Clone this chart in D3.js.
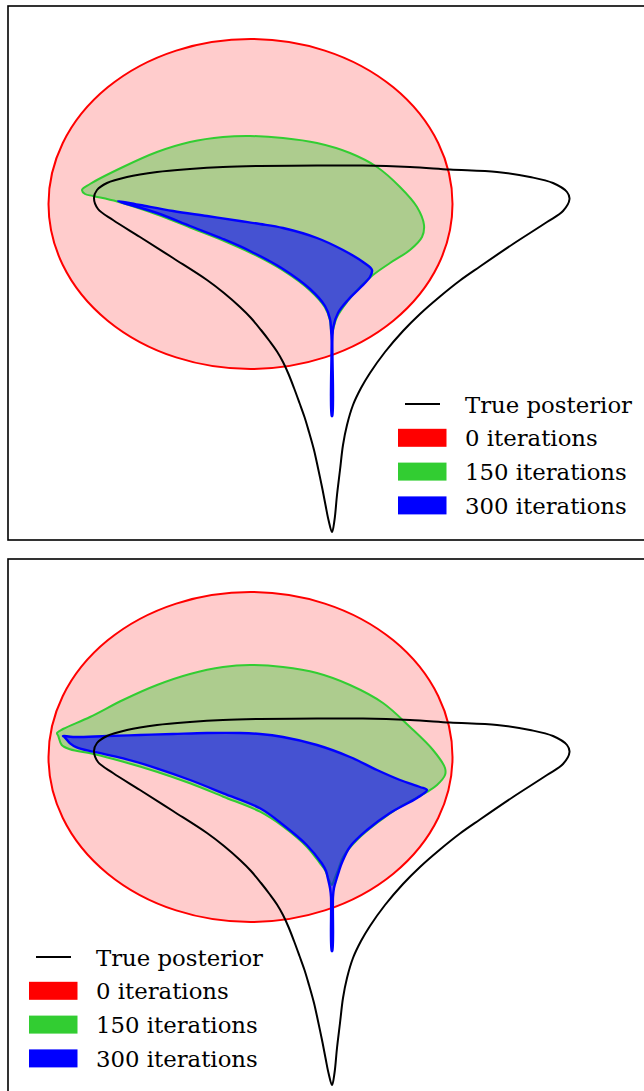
<!DOCTYPE html>
<html>
<head>
<meta charset="utf-8">
<script src="https://cdn.jsdelivr.net/npm/d3@7"></script>
<style>
  html, body { margin: 0; padding: 0; background: #fff; }
  svg { display: block; }
</style>
</head>
<body>
<svg id="chart" width="644" height="1091"></svg>
<script>
// Contour of the true posterior (same in both panels), as [x, y] points.
const truePosterior = [
  [0, -3.28], [-0.035, -3.16], [-0.065, -3.01], [-0.10, -2.83], [-0.14, -2.64],
  [-0.18, -2.46], [-0.23, -2.28], [-0.275, -2.13], [-0.325, -1.99], [-0.38, -1.84],
  [-0.435, -1.70], [-0.49, -1.58], [-0.55, -1.475], [-0.625, -1.37], [-0.71, -1.26],
  [-0.81, -1.14], [-0.92, -1.03], [-1.08, -0.89], [-1.25, -0.76], [-1.59, -0.54],
  [-1.92, -0.33], [-2.19, -0.16], [-2.34, -0.05], [-2.38, 0.06], [-2.35, 0.14],
  [-2.25, 0.21], [-2.05, 0.27], [-1.75, 0.32], [-1.42, 0.35], [-1.09, 0.37],
  [-0.72, 0.38], [-0.15, 0.385], [0.31, 0.385], [0.78, 0.37], [1.18, 0.345],
  [1.65, 0.32], [1.98, 0.27], [2.21, 0.21], [2.35, 0.12], [2.375, 0.05],
  [2.31, -0.07], [2.15, -0.18], [1.81, -0.40], [1.48, -0.625], [1.28, -0.765],
  [1.08, -0.925], [0.88, -1.10], [0.71, -1.27], [0.53, -1.48], [0.38, -1.69],
  [0.29, -1.84], [0.21, -2.01], [0.15, -2.21], [0.11, -2.41], [0.08, -2.66],
  [0.05, -2.91], [0.025, -3.16]
];

// Initial Gaussian approximation (0 iterations): centre and radii.
const initCenter = [-0.815, 0];
const initRadii = [2.02, 1.65];

// Approximation after 150 iterations, one contour per panel.
const green150Top = [
  [-2.50, 0.14], [-2.42, 0.20], [-2.09, 0.37], [-1.75, 0.52], [-1.42, 0.62],
  [-1.09, 0.67], [-0.82, 0.68], [-0.49, 0.66], [-0.15, 0.61], [0.18, 0.51],
  [0.45, 0.37], [0.68, 0.17], [0.85, -0.03], [0.92, -0.21], [0.90, -0.33],
  [0.78, -0.46], [0.58, -0.59], [0.41, -0.71], [0.28, -0.83], [0.15, -0.98],
  [0.05, -1.13], [0.01, -1.26], [0, -1.31], [-0.01, -1.26], [-0.02, -1.165],
  [-0.07, -1.035], [-0.22, -0.865], [-0.49, -0.665], [-0.82, -0.485],
  [-1.09, -0.365], [-1.42, -0.235], [-1.75, -0.105], [-2.15, 0.025],
  [-2.39, 0.08], [-2.47, 0.10]
];
const green150Bottom = [
  [-2.75, 0.24], [-2.69, 0.28], [-2.42, 0.40], [-2.09, 0.57], [-1.75, 0.72],
  [-1.42, 0.83], [-1.09, 0.90], [-0.82, 0.92], [-0.49, 0.90], [-0.15, 0.84],
  [0.18, 0.72], [0.51, 0.54], [0.78, 0.30], [1.01, 0.07], [1.13, -0.11],
  [1.13, -0.18], [1.05, -0.28], [0.95, -0.35], [0.68, -0.50], [0.45, -0.66],
  [0.25, -0.83], [0.11, -1.00], [0.06, -1.13], [0.02, -1.23], [0, -1.28],
  [-0.03, -1.23], [-0.07, -1.13], [-0.12, -1.063], [-0.253, -0.897],
  [-0.487, -0.697], [-0.72, -0.547], [-1.087, -0.397], [-1.42, -0.263],
  [-1.753, -0.147], [-2.087, -0.047], [-2.387, 0.03], [-2.62, 0.077],
  [-2.703, 0.12], [-2.737, 0.21]
];

// Approximation after 300 iterations, one contour per panel.
const blue300Top = [
  [-2.14, 0.03], [-1.92, -0.01], [-1.59, -0.07], [-1.25, -0.12], [-0.92, -0.17],
  [-0.72, -0.20], [-0.49, -0.24], [-0.15, -0.34], [0.11, -0.46], [0.31, -0.58],
  [0.40, -0.66], [0.38, -0.73], [0.28, -0.84], [0.16, -0.96], [0.06, -1.09],
  [0.013, -1.23], [0.004, -1.36], [0.003, -2.12], [-0.003, -2.12],
  [-0.004, -1.36], [-0.01, -1.25], [-0.02, -1.15], [-0.07, -1.02],
  [-0.22, -0.85], [-0.49, -0.65], [-0.82, -0.47], [-1.09, -0.35],
  [-1.42, -0.22], [-1.75, -0.09]
];
const blue300Bottom = [
  [-2.69, 0.21], [-2.59, 0.20], [-2.25, 0.21], [-1.92, 0.22], [-1.59, 0.23],
  [-1.25, 0.24], [-0.92, 0.24], [-0.72, 0.23], [-0.49, 0.20], [-0.15, 0.12],
  [0.18, 0.00], [0.45, -0.13], [0.68, -0.23], [0.88, -0.30], [0.95, -0.33],
  [0.85, -0.41], [0.58, -0.56], [0.35, -0.73], [0.18, -0.897], [0.097, -1.063],
  [0.07, -1.14], [0.045, -1.22], [0.02, -1.31], [0.01, -1.40], [0.003, -1.94],
  [-0.003, -1.94], [-0.01, -1.40], [-0.02, -1.31], [-0.04, -1.22],
  [-0.06, -1.14], [-0.103, -1.063], [-0.253, -0.88], [-0.487, -0.68],
  [-0.72, -0.513], [-1.087, -0.363], [-1.42, -0.23], [-1.753, -0.113],
  [-2.087, -0.013], [-2.387, 0.053], [-2.553, 0.097], [-2.62, 0.137],
  [-2.673, 0.197]
];

const legendLabels = ["True posterior", "0 iterations", "150 iterations", "300 iterations"];
const legendColors = ["#000000", "#ff0000", "#32cd32", "#0000ff"];

const svg = d3.select("#chart");
const W = 644;
const panelHeight = 534;

const x = d3.scaleLinear().domain([-3.24, 3.12]).range([8, W]);

const panels = [
  { top: 6, green: green150Top, blue: blue300Top, legend: [398, 398] },
  { top: 559, green: green150Bottom, blue: blue300Bottom, legend: [29, 398] }
];

panels.forEach(p => {
  const y = d3.scaleLinear().domain([1.98, 1.98 - panelHeight / 100]).range([p.top, p.top + panelHeight]);
  const g = svg.append("g");

  const closed = d3.line().x(d => x(d[0])).y(d => y(d[1]))
    .curve(d3.curveCatmullRomClosed.alpha(0.5));

  // 0 iterations: Gaussian ellipse
  g.append("ellipse")
    .attr("cx", x(initCenter[0]))
    .attr("cy", y(initCenter[1]))
    .attr("rx", x(initCenter[0] + initRadii[0]) - x(initCenter[0]))
    .attr("ry", y(initCenter[1] - initRadii[1]) - y(initCenter[1]))
    .attr("fill", "rgba(255,0,0,0.2)")
    .attr("stroke", "#ff0000")
    .attr("stroke-width", 2);

  // 150 iterations
  g.append("path")
    .attr("d", closed(p.green))
    .attr("fill", "rgba(50,205,50,0.4)")
    .attr("stroke", "#32cd32")
    .attr("stroke-width", 2)
    .attr("stroke-linejoin", "round");

  // 300 iterations
  g.append("path")
    .attr("d", closed(p.blue))
    .attr("fill", "rgba(0,0,255,0.6)")
    .attr("stroke", "#0000ff")
    .attr("stroke-width", 2.4)
    .attr("stroke-linejoin", "round");

  // true posterior contour
  g.append("path")
    .attr("d", closed(truePosterior))
    .attr("fill", "none")
    .attr("stroke", "#000")
    .attr("stroke-width", 2)
    .attr("stroke-linejoin", "round");

  // panel frame (runs past the right and bottom edges)
  g.append("rect")
    .attr("x", 8).attr("y", p.top)
    .attr("width", W + 20).attr("height", panelHeight)
    .attr("fill", "none")
    .attr("stroke", "#000")
    .attr("stroke-width", 1.6);

  // legend
  const lg = g.append("g").attr("transform", `translate(${p.legend[0]},${p.top + p.legend[1]})`);
  const rowH = 33.8;
  legendLabels.forEach((label, i) => {
    const cy = i * rowH;
    if (i === 0) {
      lg.append("line")
        .attr("x1", 7).attr("x2", 42).attr("y1", cy).attr("y2", cy)
        .attr("stroke", legendColors[i]).attr("stroke-width", 2);
    } else {
      lg.append("rect")
        .attr("x", 0).attr("y", cy - 9).attr("width", 48.5).attr("height", 18)
        .attr("fill", legendColors[i]);
    }
    lg.append("text")
      .attr("x", 67).attr("y", cy + 8.6)
      .attr("font-family", "DejaVu Serif")
      .attr("font-size", 22.8)
      .attr("fill", "#000")
      .text(label);
  });
});
</script>
</body>
</html>
